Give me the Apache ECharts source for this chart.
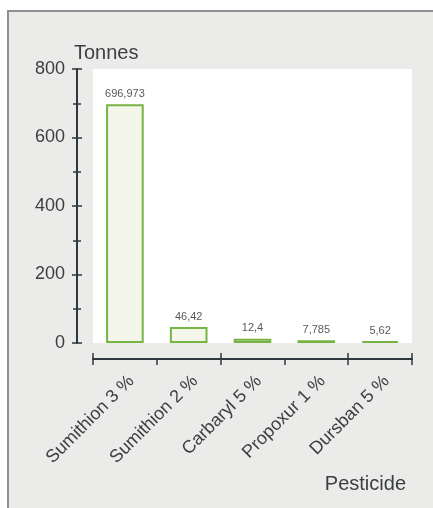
<!DOCTYPE html>
<html>
<head>
<meta charset="utf-8">
<script src="https://cdn.jsdelivr.net/npm/echarts@6/dist/echarts.min.js"></script>
<style>
  html, body { margin: 0; padding: 0; background: #fff; }
  #wrap { position: relative; width: 433px; height: 508px; overflow: hidden; }
  #panel { position: absolute; left: 7px; top: 10px; width: 440px; height: 520px;
           background: #ebebea; border: 2px solid #8b9196; }
  #chart { position: absolute; left: 0; top: 0; width: 433px; height: 508px; }
</style>
</head>
<body>
<div id="wrap">
  <div id="panel"></div>
  <div id="chart"></div>
</div>
<script>
// pesticide amounts (tonnes)
const categories = ['Sumithion 3 %', 'Sumithion 2 %', 'Carbaryl 5 %', 'Propoxur 1 %', 'Dursban 5 %'];
const tonnes = [696.973, 46.42, 12.4, 7.785, 5.62];
const valueLabels = ['696,973', '46,42', '12,4', '7,785', '5,62'];
const yTicks = [0, 200, 400, 600, 800];

const textColor = '#3b3f42';
const axisColor = '#2f383e';
const font = 'Arial, "Liberation Sans", sans-serif';

const chart = echarts.init(document.getElementById('chart'));

const yBase = {
    type: 'value',
    min: yTicks[0],
    max: yTicks[yTicks.length - 1],
    interval: 200,
    position: 'left',
    offset: 16,
    splitLine: { show: false },
    minorTick: { show: true, splitNumber: 2, length: 4, lineStyle: { color: axisColor, width: 1.5 } },
    minorSplitLine: { show: false },
};
const xBase = {
    type: 'category',
    data: categories,
    position: 'bottom',
    offset: 16,
    boundaryGap: true,
    splitLine: { show: false },
};

const option = {
    backgroundColor: 'transparent',
    animation: false,
    title: [
        { text: 'Tonnes', left: 69, top: 38, textStyle: { fontFamily: font, fontSize: 20, fontWeight: 'normal', color: textColor } },
        { text: 'Pesticide', right: 22, top: 469, textStyle: { fontFamily: font, fontSize: 20, fontWeight: 'normal', color: textColor } },
    ],
    grid: {
        left: 93,
        right: 21,
        top: 69,
        bottom: 165,
        show: true,
        backgroundColor: '#ffffff',
        borderWidth: 0,
    },
    yAxis: [
        Object.assign({}, yBase, {
            axisLine: { show: true, lineStyle: { color: axisColor, width: 2 } },
            axisTick: { show: true, inside: false, length: 5, lineStyle: { color: axisColor, width: 1.5 } },
            axisLabel: { margin: 12, color: textColor, fontSize: 18, fontFamily: font },
        }),
        Object.assign({}, yBase, {
            axisLine: { show: false },
            axisTick: { show: true, inside: true, length: 5, lineStyle: { color: axisColor, width: 1.5 } },
            minorTick: { show: true, splitNumber: 2, length: 4, lineStyle: { color: axisColor, width: 1.5 } },
            axisLabel: { show: false },
        }),
    ],
    xAxis: [
        Object.assign({}, xBase, {
            axisLine: { show: true, onZero: false, lineStyle: { color: axisColor, width: 2 } },
            axisTick: { show: true, inside: false, length: 6, lineStyle: { color: axisColor, width: 1.5 } },
            axisLabel: { rotate: 45, margin: 13, verticalAlign: 'top', color: textColor, fontSize: 18, fontFamily: font },
        }),
        Object.assign({}, xBase, {
            axisLine: { show: false, onZero: false },
            axisTick: { show: true, inside: true, length: 6, lineStyle: { color: axisColor, width: 1.5 } },
            axisLabel: { show: false },
        }),
    ],
    series: [
        {
            type: 'bar',
            xAxisIndex: 0,
            yAxisIndex: 0,
            data: tonnes,
            barWidth: '59%',
            itemStyle: { color: '#f3f6e8', borderColor: '#78b443', borderWidth: 2 },
            label: {
                show: true,
                position: 'top',
                distance: 5,
                color: '#555a5e',
                fontSize: 11,
                fontFamily: font,
                formatter: (p) => valueLabels[p.dataIndex],
            },
        },
    ],
};

chart.setOption(option);
</script>
</body>
</html>
